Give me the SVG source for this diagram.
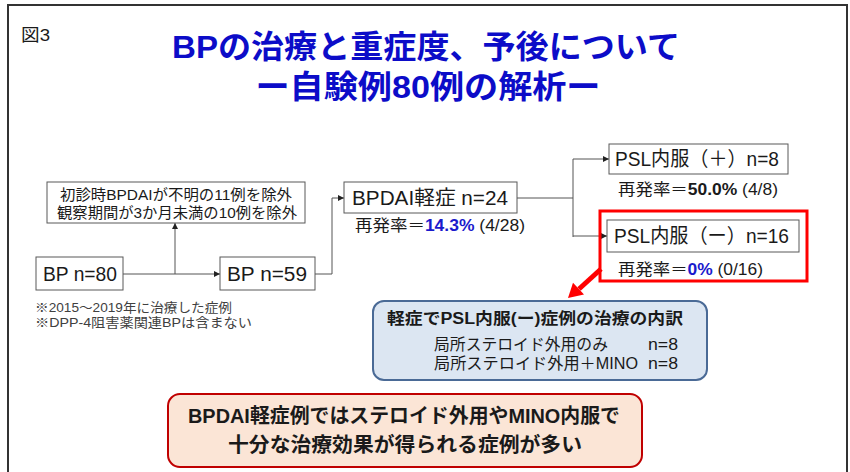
<svg xmlns="http://www.w3.org/2000/svg" width="850" height="472" viewBox="0 0 850 472">
<defs>
<style>
text{font-family:"Liberation Sans","Noto Sans CJK JP",sans-serif;fill:#1a1a1a}
.title{font-size:32px;font-weight:bold;fill:#0c0cc8;text-anchor:middle}
.box{fill:#fff;stroke:#595959;stroke-width:1}
.big{font-size:20px}
.rate{font-size:16px}
.blue{fill:#1a1acc;font-weight:bold}
.b{font-weight:bold}
.conn{fill:none;stroke:#555;stroke-width:1}
.note{font-size:13px;fill:#404040}
.mid{font-size:15px}
</style>
<marker id="ah" viewBox="0 0 6 6" refX="6" refY="3" markerWidth="6" markerHeight="6" markerUnits="userSpaceOnUse" orient="auto">
<path d="M0,0 L6,3 L0,6 Z" fill="#222"/>
</marker>
</defs>
<rect x="0" y="0" width="850" height="472" fill="#fff"/>
<path d="M8,480 V5 H847 V480" fill="none" stroke="#333" stroke-width="2"/>
<text x="21" y="41" textLength="29" lengthAdjust="spacingAndGlyphs" style="font-size:17px">図3</text>
<text class="title" x="426" y="58" textLength="508" lengthAdjust="spacingAndGlyphs">BPの治療と重症度、予後について</text>
<text class="title" x="428" y="98" textLength="345" lengthAdjust="spacingAndGlyphs">ー自験例80例の解析ー</text>

<g id="connectors">
<line class="conn" x1="123" y1="274" x2="220" y2="274" marker-end="url(#ah)"/>
<line class="conn" x1="175" y1="274" x2="175" y2="223" marker-end="url(#ah)"/>
<polyline class="conn" points="315,274 332,274 332,198 344,198" marker-end="url(#ah)"/>
<polyline class="conn" points="517,198 573,198"/>
<polyline class="conn" points="573,237 573,159 609,159" marker-end="url(#ah)"/>
<polyline class="conn" points="573,236 607,236" marker-end="url(#ah)"/>
</g>

<g id="exclude">
<rect class="box" x="47" y="182" width="258" height="41"/>
<text class="mid" x="176" y="200" text-anchor="middle" textLength="232" lengthAdjust="spacingAndGlyphs">初診時BPDAIが不明の11例を除外</text>
<text class="mid" x="177" y="218" text-anchor="middle" textLength="240" lengthAdjust="spacingAndGlyphs">観察期間が3か月未満の10例を除外</text>
</g>
<g id="bp80">
<rect class="box" x="36" y="257" width="87" height="33"/>
<text class="big" x="43" y="281" textLength="74" lengthAdjust="spacingAndGlyphs">BP n=80</text>
</g>
<g id="bp59">
<rect class="box" x="220" y="257" width="95" height="33"/>
<text class="big" x="227" y="281" textLength="80" lengthAdjust="spacingAndGlyphs">BP n=59</text>
</g>
<g id="notes">
<text class="note" x="35" y="312" textLength="197" lengthAdjust="spacingAndGlyphs">※2015～2019年に治療した症例</text>
<text class="note" x="35" y="327" textLength="217" lengthAdjust="spacingAndGlyphs">※DPP-4阻害薬関連BPは含まない</text>
</g>
<g id="bpdai">
<rect class="box" x="344" y="182" width="173" height="31"/>
<text class="big" x="352" y="205" textLength="156" lengthAdjust="spacingAndGlyphs">BPDAI軽症 n=24</text>
<text class="rate" x="355" y="231" textLength="170" lengthAdjust="spacingAndGlyphs">再発率＝<tspan class="blue">14.3%</tspan> (4/28)</text>
</g>
<g id="pslplus">
<rect class="box" x="609" y="144" width="179" height="30"/>
<text class="big" x="615" y="166" textLength="164" lengthAdjust="spacingAndGlyphs">PSL内服（＋）n=8</text>
<text class="rate" x="618" y="195" textLength="160" lengthAdjust="spacingAndGlyphs">再発率＝<tspan class="b">50.0%</tspan> (4/8)</text>
</g>
<g id="pslminus">
<rect x="600" y="211" width="207" height="70" fill="none" stroke="#ff0000" stroke-width="3"/>
<rect class="box" x="607" y="220" width="192" height="32"/>
<text class="big" x="614" y="243" textLength="175" lengthAdjust="spacingAndGlyphs">PSL内服（ー）n=16</text>
<text class="rate" x="618" y="275" textLength="145" lengthAdjust="spacingAndGlyphs">再発率＝<tspan class="blue">0%</tspan> (0/16)</text>
<line x1="601" y1="269" x2="579" y2="289" stroke="#ff0000" stroke-width="5"/>
<polygon points="568,298 584,294.5 573,282.7" fill="#ff0000"/>
</g>
<g id="breakdown">
<rect x="373" y="301" width="334" height="79" rx="11" fill="#dce6f2" stroke="#4a6a96" stroke-width="2"/>
<text class="rate b" x="387" y="324" textLength="296" lengthAdjust="spacingAndGlyphs">軽症でPSL内服(ー)症例の治療の内訳</text>
<text class="rate" x="434" y="350" textLength="174" lengthAdjust="spacingAndGlyphs">局所ステロイド外用のみ</text>
<text class="rate" x="648" y="350" textLength="30" lengthAdjust="spacingAndGlyphs">n=8</text>
<text class="rate" x="434" y="369" textLength="204" lengthAdjust="spacingAndGlyphs">局所ステロイド外用＋MINO</text>
<text class="rate" x="648" y="369" textLength="30" lengthAdjust="spacingAndGlyphs">n=8</text>
</g>
<g id="conclusion">
<rect x="168" y="394" width="474" height="73" rx="12" fill="#fbe5d6" stroke="#c00000" stroke-width="2"/>
<text class="b" x="404" y="423" text-anchor="middle" style="font-size:20px" textLength="432" lengthAdjust="spacingAndGlyphs">BPDAI軽症例ではステロイド外用やMINO内服で</text>
<text class="b" x="405" y="452" text-anchor="middle" style="font-size:20px" textLength="354" lengthAdjust="spacingAndGlyphs">十分な治療効果が得られる症例が多い</text>
</g>
</svg>
